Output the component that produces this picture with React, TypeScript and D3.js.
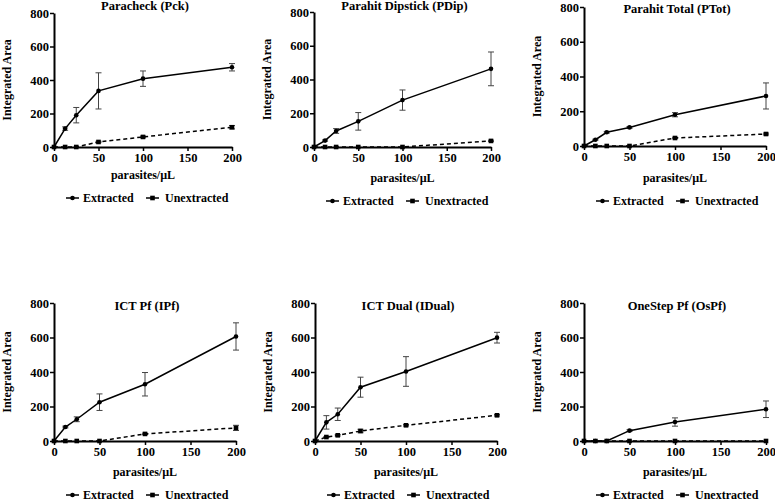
import React, { useEffect, useRef } from 'react';
import * as d3 from 'd3';

const W = 775;
const H = 501;

const doses = [0, 12.5, 25, 50, 100, 200];
const xTicks = [0, 50, 100, 150, 200];
const yTicks = [0, 200, 400, 600, 800];
const panelTitles = [
  'Paracheck (Pck)',
  'Parahit Dipstick (PDip)',
  'Parahit Total (PTot)',
  'ICT Pf (IPf)',
  'ICT Dual (IDual)',
  'OneStep Pf (OsPf)',
];
const seriesNames = ['Extracted', 'Unextracted'];

// values (mean, error)
const pckExtracted = [0, 110, 190, 335, 408, 476];
const pckExtractedErr = [0, 10, 46, 108, 46, 22];
const pckUnextracted = [0, 0, 0, 30, 60, 118];
const pckUnextractedErr = [0, 0, 0, 4, 5, 10];

const pdipExtracted = [0, 38, 95, 152, 278, 463];
const pdipExtractedErr = [0, 4, 14, 52, 60, 100];
const pdipUnextracted = [0, 0, 0, 0, 0, 36];
const pdipUnextractedErr = [0, 0, 0, 0, 0, 4];

const ptotExtracted = [0, 36, 79, 107, 180, 288];
const ptotExtractedErr = [0, 3, 5, 5, 12, 75];
const ptotUnextracted = [0, 0, 0, 0, 46, 69];
const ptotUnextractedErr = [0, 0, 0, 0, 4, 5];

const ipfExtracted = [0, 81, 126, 225, 329, 606];
const ipfExtractedErr = [0, 5, 14, 48, 68, 79];
const ipfUnextracted = [0, 0, 0, 0, 41, 76];
const ipfUnextractedErr = [0, 0, 0, 0, 4, 15];

const idualExtracted = [0, 108, 155, 312, 403, 599];
const idualExtractedErr = [0, 39, 36, 58, 86, 31];
const idualUnextracted = [0, 23, 33, 58, 91, 149];
const idualUnextractedErr = [0, 3, 4, 10, 4, 4];

const ospfExtracted = [0, 0, 0, 60, 110, 184];
const ospfExtractedErr = [0, 0, 0, 5, 24, 48];
const ospfUnextracted = [0, 0, 0, 0, 0, 0];
const ospfUnextractedErr = [0, 0, 0, 0, 0, 0];

const panelSeries = [
  [pckExtracted, pckExtractedErr, pckUnextracted, pckUnextractedErr],
  [pdipExtracted, pdipExtractedErr, pdipUnextracted, pdipUnextractedErr],
  [ptotExtracted, ptotExtractedErr, ptotUnextracted, ptotUnextractedErr],
  [ipfExtracted, ipfExtractedErr, ipfUnextracted, ipfUnextractedErr],
  [idualExtracted, idualExtractedErr, idualUnextracted, idualUnextractedErr],
  [ospfExtracted, ospfExtractedErr, ospfUnextracted, ospfUnextractedErr],
];

// plot frames (pixel layout of each small chart)
const frames = [
  { left: 54, right: 232, top: 13, bottom: 147, titleY: 10, xLabelY: 179 },
  { left: 314, right: 491, top: 12, bottom: 147, titleY: 10, xLabelY: 182 },
  { left: 584, right: 766, top: 7, bottom: 146, titleY: 13, xLabelY: 182 },
  { left: 54, right: 236, top: 303, bottom: 441, titleY: 310, xLabelY: 476 },
  { left: 315, right: 497, top: 303, bottom: 441, titleY: 310, xLabelY: 476 },
  { left: 584, right: 766, top: 303, bottom: 441, titleY: 310, xLabelY: 476 },
];

const FONT = 'Liberation Serif, Times New Roman, Times, serif';

const App = () => {
  const ref = useRef<SVGSVGElement>(null);

  useEffect(() => {
    const svg = d3.select(ref.current);
    svg.selectAll('*').remove();

    svg.append('rect').attr('width', W).attr('height', H).attr('fill', 'white');

    const txt = (sel: any, size = 12) =>
      sel.style('font-family', FONT).style('font-weight', 'bold').style('font-size', `${size}px`);

    frames.forEach((f, i) => {
      const [ext, extErr, unx, unxErr] = panelSeries[i];
      const x = d3.scaleLinear().domain([0, 200]).range([f.left, f.right]);
      const y = d3.scaleLinear().domain([0, 800]).range([f.bottom, f.top]);
      const g = svg.append('g');

      // axes
      const gx = g.append('g')
        .attr('transform', `translate(0,${f.bottom})`)
        .call(d3.axisBottom(x).tickValues(xTicks).tickSize(4).tickSizeOuter(0).tickPadding(2));
      const gy = g.append('g')
        .attr('transform', `translate(${f.left},0)`)
        .call(d3.axisLeft(y).tickValues(yTicks).tickSize(4).tickSizeOuter(0).tickPadding(1));
      [gx, gy].forEach(a => {
        a.attr('font-family', null).attr('font-size', null);
        a.select('.domain').attr('stroke', '#000').attr('stroke-width', 2);
        a.selectAll('.tick line').attr('stroke', '#000').attr('stroke-width', 1.5);
        txt(a.selectAll('.tick text').attr('fill', '#000'), 12.5);
      });

      // labels
      txt(g.append('text')
        .attr('x', (f.left + f.right) / 2 + 2)
        .attr('y', f.titleY)
        .attr('text-anchor', 'middle'), 12.5)
        .text(panelTitles[i]);

      txt(g.append('text')
        .attr('x', (f.left + f.right) / 2)
        .attr('y', f.xLabelY)
        .attr('text-anchor', 'middle'))
        .text('parasites/\u00b5L');

      txt(g.append('text')
        .attr('transform', `translate(${f.left - 43},${(f.top + f.bottom) / 2}) rotate(-90)`)
        .attr('text-anchor', 'middle'))
        .text('Integrated Area');

      const series = [
        { vals: ext, errs: extErr, dash: null, shape: 'circle' },
        { vals: unx, errs: unxErr, dash: '4,3', shape: 'square' },
      ];

      const line = d3.line<number>().x((_, k) => x(doses[k])).y(d => y(d));

      series.forEach(s => {
        // error bars
        const eb = g.append('g').attr('stroke', '#444').attr('stroke-width', 1);
        s.vals.forEach((v, k) => {
          const e = s.errs[k];
          if (!e) return;
          const cx = x(doses[k]);
          eb.append('line').attr('x1', cx).attr('x2', cx).attr('y1', y(v - e)).attr('y2', y(v + e));
          eb.append('line').attr('x1', cx - 3).attr('x2', cx + 3).attr('y1', y(v - e)).attr('y2', y(v - e));
          eb.append('line').attr('x1', cx - 3).attr('x2', cx + 3).attr('y1', y(v + e)).attr('y2', y(v + e));
        });
      });

      series.forEach(s => {
        g.append('path')
          .datum(s.vals)
          .attr('d', line)
          .attr('fill', 'none')
          .attr('stroke', '#000')
          .attr('stroke-width', 1.5)
          .attr('stroke-dasharray', s.dash);
      });

      series.forEach(s => {
        s.vals.forEach((v, k) => {
          if (s.shape === 'circle') {
            g.append('circle').attr('cx', x(doses[k])).attr('cy', y(v)).attr('r', 2.3).attr('fill', '#000');
          } else {
            g.append('rect').attr('x', x(doses[k]) - 2.3).attr('y', y(v) - 2.3)
              .attr('width', 4.6).attr('height', 4.6).attr('fill', '#000');
          }
        });
      });

      // legend
      const ly = f.xLabelY + 23;
      const lx = f.left + 12;
      const offsets = [0, 80];
      series.forEach((s, k) => {
        const sx = lx + offsets[k];
        g.append('line').attr('x1', sx).attr('x2', sx + 13).attr('y1', ly - 4).attr('y2', ly - 4)
          .attr('stroke', '#000').attr('stroke-width', 1.5);
        if (s.shape === 'circle') {
          g.append('circle').attr('cx', sx + 6.5).attr('cy', ly - 4).attr('r', 2.3).attr('fill', '#000');
        } else {
          g.append('rect').attr('x', sx + 4.2).attr('y', ly - 6.3).attr('width', 4.6).attr('height', 4.6).attr('fill', '#000');
        }
        txt(g.append('text')
          .attr('x', sx + 17 + (k === 0 ? 0 : 2))
          .attr('y', ly))
          .text(seriesNames[k]);
      });
    });
  }, []);

  return (
    <svg ref={ref} width={W} height={H} style={{ position: 'absolute', left: 0, top: 0 }}></svg>
  );
};

export default App;
